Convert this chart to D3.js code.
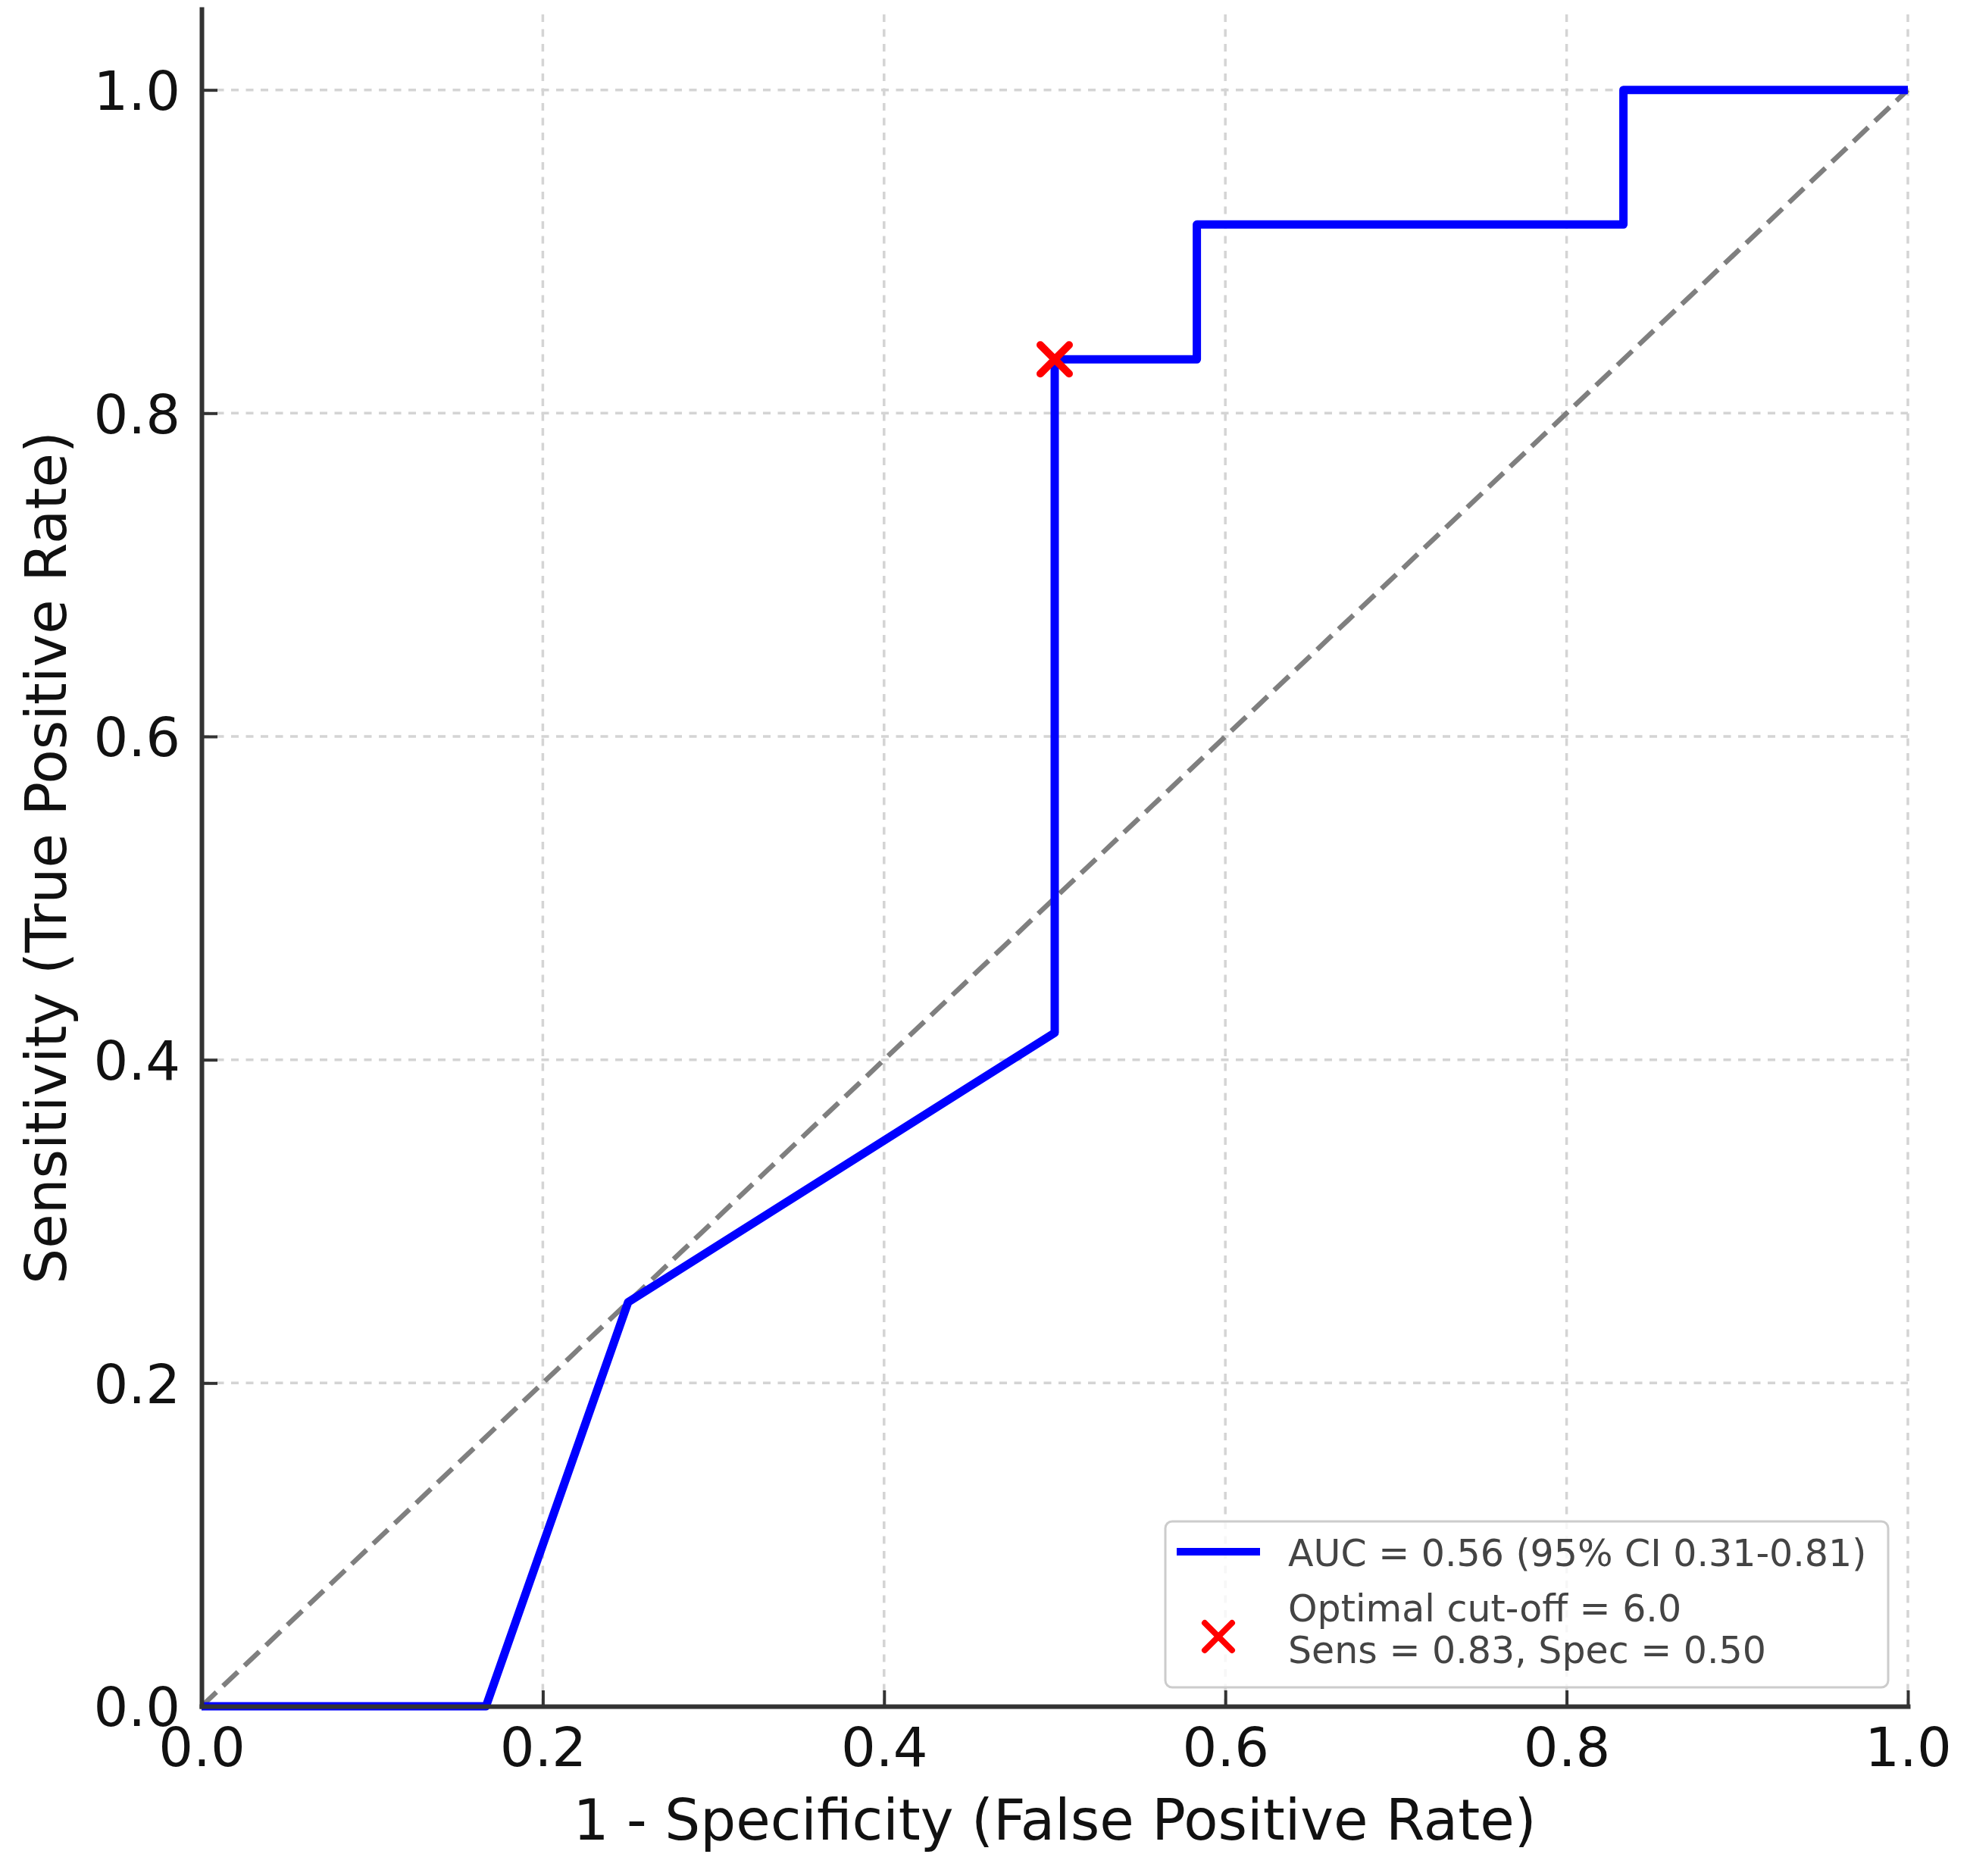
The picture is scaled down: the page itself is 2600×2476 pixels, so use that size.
<!DOCTYPE html>
<html>
<head>
<meta charset="utf-8">
<script src="https://cdn.jsdelivr.net/npm/d3@7"></script>
<style>
  html, body { margin: 0; padding: 0; background: #ffffff; }
  svg { display: block; }
</style>
</head>
<body>
<script>
// ---------------- data ----------------
const fpr = [0, 0.1667, 0.25, 0.5, 0.5, 0.5833, 0.5833, 0.8333, 0.8333, 1.0];
const tpr = [0, 0, 0.25, 0.4167, 0.8333, 0.8333, 0.9167, 0.9167, 1.0, 1.0];
const cutoffFpr = [0.5];
const cutoffTpr = [0.8333];
const chanceX = [0, 1];
const chanceY = [0, 1];
const tickValues = [0, 0.2, 0.4, 0.6, 0.8, 1.0];
const tickLabels = ["0.0", "0.2", "0.4", "0.6", "0.8", "1.0"];
const legendLabels = ["AUC = 0.56 (95% CI 0.31-0.81)", "Optimal cut-off = 6.0", "Sens = 0.83, Spec = 0.50"];
const xLabel = "1 - Specificity (False Positive Rate)";
const yLabel = "Sensitivity (True Positive Rate)";

// ---------------- layout ----------------
const W = 2600, H = 2476;
const FONT = "'DejaVu Sans', 'Liberation Sans', sans-serif";
const svg = d3.select("body").append("svg").attr("width", W).attr("height", H);

const x = d3.scaleLinear().domain([0, 1]).range([266, 2518]);
const y = d3.scaleLinear().domain([0, 1.05]).range([2252, 12]);

// ---------------- grid ----------------
const grid = svg.append("g");
grid.selectAll("line.v").data(tickValues).join("line")
  .attr("x1", d => x(d)).attr("x2", d => x(d))
  .attr("y1", y(0)).attr("y2", y(1.05))
  .attr("stroke", "#d4d4d4").attr("stroke-width", 3.5).attr("stroke-dasharray", "10,9.5");
grid.selectAll("line.h").data(tickValues).join("line")
  .attr("x1", x(0)).attr("x2", x(1))
  .attr("y1", d => y(d)).attr("y2", d => y(d))
  .attr("stroke", "#d4d4d4").attr("stroke-width", 3.5).attr("stroke-dasharray", "10,9.5");

// ---------------- chance diagonal ----------------
svg.append("line")
  .attr("x1", x(chanceX[0])).attr("y1", y(chanceY[0]))
  .attr("x2", x(chanceX[1])).attr("y2", y(chanceY[1]))
  .attr("stroke", "#7f7f7f").attr("stroke-width", 6.5).attr("stroke-dasharray", "27,12");

// ---------------- ROC curve ----------------
const line = d3.line().x(i => x(fpr[i])).y(i => y(tpr[i]));
svg.append("path")
  .attr("d", line(d3.range(fpr.length)))
  .attr("fill", "none").attr("stroke", "#0000ff").attr("stroke-width", 11)
  .attr("stroke-linejoin", "round").attr("stroke-linecap", "butt");

// ---------------- cut-off marker ----------------
function xMark(g, cx, cy, r, w) {
  g.append("path")
    .attr("d", `M${cx - r},${cy - r}L${cx + r},${cy + r}M${cx - r},${cy + r}L${cx + r},${cy - r}`)
    .attr("stroke", "#ff0000").attr("stroke-width", w).attr("stroke-linecap", "round").attr("fill", "none");
}
cutoffFpr.forEach((f, i) => xMark(svg, x(f), y(cutoffTpr[i]), 19, 10));

// ---------------- axes ----------------
const xAxis = svg.append("g").attr("transform", `translate(0,${y(0)})`)
  .call(d3.axisBottom(x).tickValues(tickValues).tickFormat((d, i) => tickLabels[i]).tickSizeInner(-21).tickSizeOuter(0));
const yAxis = svg.append("g").attr("transform", `translate(${x(0)},0)`)
  .call(d3.axisLeft(y).tickValues(tickValues).tickFormat((d, i) => tickLabels[i]).tickSizeInner(-21).tickSizeOuter(0));

[xAxis, yAxis].forEach(a => {
  a.attr("font-family", FONT);
  a.select(".domain").attr("stroke", "#333333").attr("stroke-width", 6).attr("stroke-linecap", "square");
  a.selectAll(".tick line").attr("stroke", "#333333").attr("stroke-width", 4);
  a.selectAll(".tick text").attr("font-family", FONT).attr("font-size", 72).attr("fill", "#111111");
});
xAxis.selectAll(".tick text").attr("y", 79).attr("dy", null);
yAxis.selectAll(".tick text").attr("x", -28).attr("dy", "0.36em");

// ---------------- axis labels ----------------
svg.append("text")
  .attr("x", (x(0) + x(1)) / 2).attr("y", 2428)
  .attr("text-anchor", "middle").attr("font-family", FONT).attr("font-size", 74).attr("fill", "#111111")
  .text(xLabel);
svg.append("text")
  .attr("transform", `translate(87,${(y(0) + y(1.05)) / 2}) rotate(-90)`)
  .attr("text-anchor", "middle").attr("font-family", FONT).attr("font-size", 74).attr("fill", "#111111")
  .text(yLabel);

// ---------------- legend ----------------
const lg = svg.append("g");
lg.append("rect")
  .attr("x", 1538).attr("y", 2008).attr("width", 954).attr("height", 219).attr("rx", 9)
  .attr("fill", "#ffffff").attr("fill-opacity", 0.8).attr("stroke", "#cccccc").attr("stroke-width", 3);
lg.append("line")
  .attr("x1", 1553).attr("x2", 1663).attr("y1", 2048).attr("y2", 2048)
  .attr("stroke", "#0000ff").attr("stroke-width", 10);
xMark(lg, 1608, 2160, 18, 8);
const baselines = [2067, 2140, 2195];
lg.selectAll("text").data(legendLabels).join("text")
  .attr("x", 1700).attr("y", (d, i) => baselines[i])
  .attr("font-family", FONT).attr("font-size", 49).attr("fill", "#444444")
  .text(d => d);
</script>
</body>
</html>
